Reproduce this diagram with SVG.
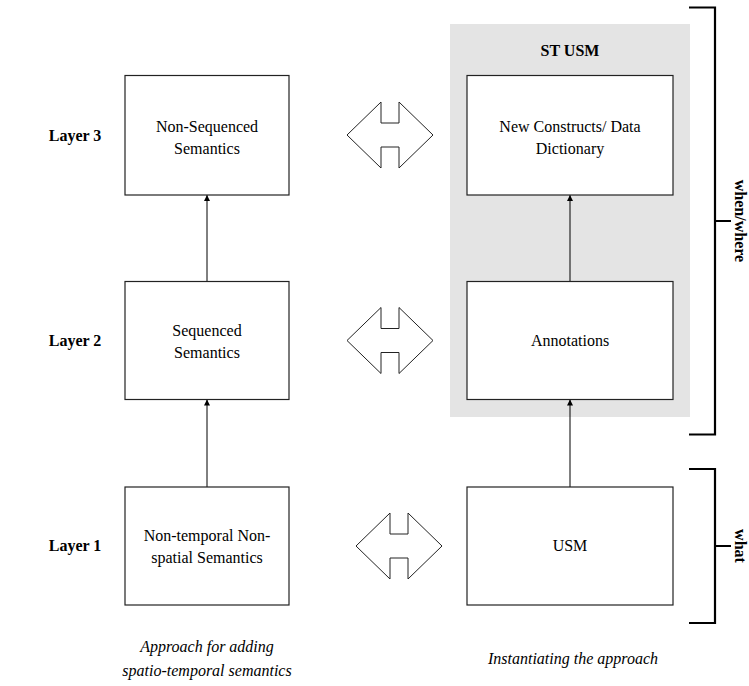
<svg xmlns="http://www.w3.org/2000/svg" width="749" height="686" viewBox="0 0 749 686">
  <style>
    .box { fill: #fff; stroke: #222; stroke-width: 1.2; }
    .txt { font-family: 'Liberation Serif', 'DejaVu Serif', serif; font-size: 16px; fill: #000; text-anchor: middle; }
    .bold { font-weight: bold; }
    .ital { font-style: italic; }
    .conn { stroke: #000; stroke-width: 1; fill: none; }
    .brk { stroke: #000; stroke-width: 2.2; fill: none; }
    .dbl { fill: #fff; stroke: #222; stroke-width: 1; }
  </style>
  <defs>
    <marker id="arr" viewBox="0 0 10 10" refX="10" refY="5" markerWidth="6" markerHeight="9" markerUnits="userSpaceOnUse" orient="auto">
      <path d="M0,0 L10,5 L0,10 Z" fill="#000"/>
    </marker>
    <!-- two-headed block arrow centred on the origin -->
    <path id="dblArrow" class="dbl" d="M-43,0 L-9,-33 L-9,-12 L9,-12 L9,-33 L43,0 L9,33 L9,12 L-9,12 L-9,33 Z"/>
  </defs>

  <!-- shaded ST USM region -->
  <rect x="450" y="24" width="240" height="393" fill="#e4e4e4"/>
  <text class="txt bold" x="570" y="56">ST USM</text>

  <!-- layer labels -->
  <text class="txt bold" x="75" y="141">Layer 3</text>
  <text class="txt bold" x="75" y="346">Layer 2</text>
  <text class="txt bold" x="75" y="551">Layer 1</text>

  <!-- connectors -->
  <g id="connectors">
    <line class="conn" x1="207" y1="281.5" x2="207" y2="195" marker-end="url(#arr)"/>
    <line class="conn" x1="207" y1="487" x2="207" y2="399.5" marker-end="url(#arr)"/>
    <line class="conn" x1="570" y1="281.5" x2="570" y2="195" marker-end="url(#arr)"/>
    <line class="conn" x1="570" y1="487" x2="570" y2="399.5" marker-end="url(#arr)"/>
    <use href="#dblArrow" x="390" y="135"/>
    <use href="#dblArrow" x="390" y="340.5"/>
    <use href="#dblArrow" x="399" y="546"/>
  </g>

  <!-- approach column -->
  <g id="nonSequenced">
    <rect class="box" x="125" y="75.5" width="164" height="119.5"/>
    <text class="txt" x="207" y="132">Non-Sequenced</text>
    <text class="txt" x="207" y="154">Semantics</text>
  </g>
  <g id="sequenced">
    <rect class="box" x="125" y="281.5" width="164" height="118"/>
    <text class="txt" x="207" y="336">Sequenced</text>
    <text class="txt" x="207" y="358">Semantics</text>
  </g>
  <g id="nonTemporal">
    <rect class="box" x="125" y="487" width="164" height="118"/>
    <text class="txt" x="207" y="541">Non-temporal Non-</text>
    <text class="txt" x="207" y="563">spatial Semantics</text>
  </g>

  <!-- instantiation column -->
  <g id="newConstructs">
    <rect class="box" x="467" y="75.5" width="206" height="119.5"/>
    <text class="txt" x="570" y="132">New Constructs/ Data</text>
    <text class="txt" x="570" y="154">Dictionary</text>
  </g>
  <g id="annotations">
    <rect class="box" x="467" y="281.5" width="206" height="118"/>
    <text class="txt" x="570" y="346">Annotations</text>
  </g>
  <g id="usm">
    <rect class="box" x="467" y="487" width="206" height="118"/>
    <text class="txt" x="570" y="551">USM</text>
  </g>

  <!-- brackets -->
  <path class="brk" d="M689,7.5 H715 V434.5 H689 M715,221 H731"/>
  <text class="txt bold" transform="translate(735,221) rotate(90)" x="0" y="0">when/where</text>
  <path class="brk" d="M689,469 H715 V623 H689 M715,546 H731"/>
  <text class="txt bold" transform="translate(735,546) rotate(90)" x="0" y="0">what</text>

  <!-- captions -->
  <text class="txt ital" x="207" y="652">Approach for adding</text>
  <text class="txt ital" x="207" y="676">spatio-temporal semantics</text>
  <text class="txt ital" x="573" y="664">Instantiating the approach</text>
</svg>
